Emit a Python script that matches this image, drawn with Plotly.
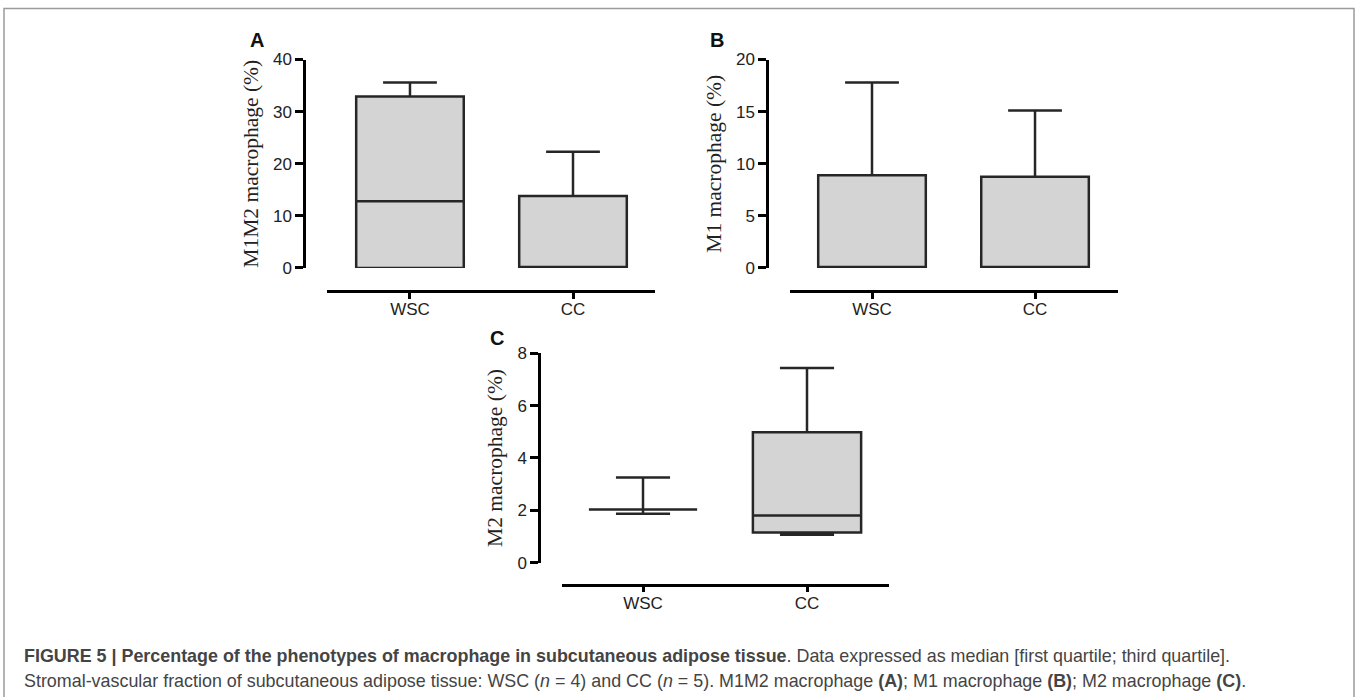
import plotly.graph_objects as go

W, H = 1359, 697
# the photographed page is compressed vertically (about 0.9705 with an 8.6 px top offset);
# target positions below are given in photographed pixels and mapped back here
Y_OFF, Y_SCALE = 8.6, 0.9705

categories = ["WSC", "CC"]

# Panel A: M1M2 macrophage (%)
a_min = [0.0, 0.0]
a_q1 = [0.0, 0.0]
a_med = [12.8, 0.0]
a_q3 = [32.9, 13.8]
a_max = [35.6, 22.3]

# Panel B: M1 macrophage (%)
b_min = [0.0, 0.0]
b_q1 = [0.0, 0.0]
b_med = [0.0, 0.0]
b_q3 = [8.9, 8.75]
b_max = [17.8, 15.1]

# Panel C: M2 macrophage (%)
c_min = [1.87, 1.07]
c_q1 = [2.03, 1.15]
c_med = [2.03, 1.80]
c_q3 = [2.03, 4.98]
c_max = [3.25, 7.43]

a_ticks = [0, 10, 20, 30, 40]
b_ticks = [0, 5, 10, 15, 20]
c_ticks = [0, 2, 4, 6, 8]

panel_titles = ["M1M2 macrophage (%)", "M1 macrophage (%)", "M2 macrophage (%)"]
panel_letters = ["A", "B", "C"]

caption_line1 = ("<b>FIGURE 5 | Percentage of the phenotypes of macrophage in subcutaneous adipose tissue</b>"
                 ". Data expressed as median [first quartile; third quartile].")
caption_line2 = ("Stromal-vascular fraction of subcutaneous adipose tissue: WSC (<i>n</i> = 4) and CC (<i>n</i> = 5). "
                 "M1M2 macrophage <b>(A)</b>; M1 macrophage <b>(B)</b>; M2 macrophage <b>(C)</b>.")

LINE = "#262626"
FILL = "#d4d4d4"

def px(x):
    return x / W

def py(y):
    return 1 - ((y - Y_OFF) / Y_SCALE) / H

panels = [
    dict(data=(a_min, a_q1, a_med, a_q3, a_max), ticks=a_ticks, rng=[0, 40],
         xdom=(327, 655), xpos=290, ydom=(267, 59), ypos=304, xr=[-0.509, 1.503], bw=0.66,
         letter=(257, 40)),
    dict(data=(b_min, b_q1, b_med, b_q3, b_max), ticks=b_ticks, rng=[0, 20],
         xdom=(790, 1118), xpos=290, ydom=(267, 59), ypos=767, xr=[-0.503, 1.509], bw=0.66,
         letter=(717, 40)),
    dict(data=(c_min, c_q1, c_med, c_q3, c_max), ticks=c_ticks, rng=[0, 8],
         xdom=(562, 889), xpos=583, ydom=(561, 352), ypos=539, xr=[-0.494, 1.5], bw=0.66,
         letter=(497, 337)),
]

fig = go.Figure()
layout = dict(
    width=W, height=H,
    margin=dict(l=0, r=0, t=0, b=0),
    paper_bgcolor="white", plot_bgcolor="rgba(0,0,0,0)",
    showlegend=False,
    annotations=[], shapes=[],
)

for i, p in enumerate(panels):
    n = "" if i == 0 else str(i + 1)
    mn, q1, md, q3, mx = p["data"]
    fig.add_trace(go.Box(
        x=categories, q1=q1, median=md, q3=q3, lowerfence=mn, upperfence=mx,
        width=p["bw"], whiskerwidth=0.5, boxpoints=False,
        fillcolor=FILL, line=dict(color=LINE, width=2.5),
        xaxis="x" + n, yaxis="y" + n, hoverinfo="skip",
    ))
    layout["xaxis" + n] = dict(
        domain=[px(p["xdom"][0]), px(p["xdom"][1])],
        anchor="free", position=py(p["xpos"]),
        type="category", range=p["xr"],
        showline=True, linecolor="black", linewidth=2.5,
        ticks="outside", ticklen=6, tickwidth=2.5, tickcolor="black",
        ticklabelstandoff=-4,
        showgrid=False, zeroline=False,
        tickfont=dict(family="Liberation Sans, Arial", size=17, color="#222"),
        fixedrange=True,
    )
    layout["yaxis" + n] = dict(
        domain=[py(p["ydom"][0]), py(p["ydom"][1])],
        anchor="free", position=px(p["ypos"]),
        range=p["rng"], tickvals=p["ticks"],
        showline=True, linecolor="black", linewidth=2.5,
        ticks="outside", ticklen=8, tickwidth=2.5, tickcolor="black",
        showgrid=False, zeroline=False,
        tickfont=dict(family="Liberation Sans, Arial", size=17, color="#222"),
        title=dict(text=panel_titles[i], standoff=7,
                   font=dict(family="Liberation Serif, Times New Roman", size=21.5, color="#222")),
        fixedrange=True,
    )
    lx, ly = p["letter"]
    layout["annotations"].append(dict(
        text="<b>%s</b>" % panel_letters[i], xref="paper", yref="paper",
        x=px(lx), y=py(ly), xanchor="center", yanchor="middle", showarrow=False,
        font=dict(family="Liberation Sans, Arial", size=20, color="#111"),
    ))

layout["annotations"].append(dict(
    text=caption_line1, xref="paper", yref="paper", x=px(22), y=py(654),
    xanchor="left", yanchor="middle", showarrow=False,
    font=dict(family="Liberation Sans, Arial", size=17.9, color="#444"),
))
layout["annotations"].append(dict(
    text=caption_line2, xref="paper", yref="paper", x=px(22), y=py(679),
    xanchor="left", yanchor="middle", showarrow=False,
    font=dict(family="Liberation Sans, Arial", size=17.9, color="#444"),
))
layout["shapes"].append(dict(
    type="rect", xref="paper", yref="paper",
    x0=px(4), x1=px(1354), y0=py(760), y1=py(8),
    line=dict(color="#9a9a9a", width=1.5), fillcolor="rgba(0,0,0,0)", layer="below",
))

fig.update_layout(**layout)
fig.write_html("out.html")
